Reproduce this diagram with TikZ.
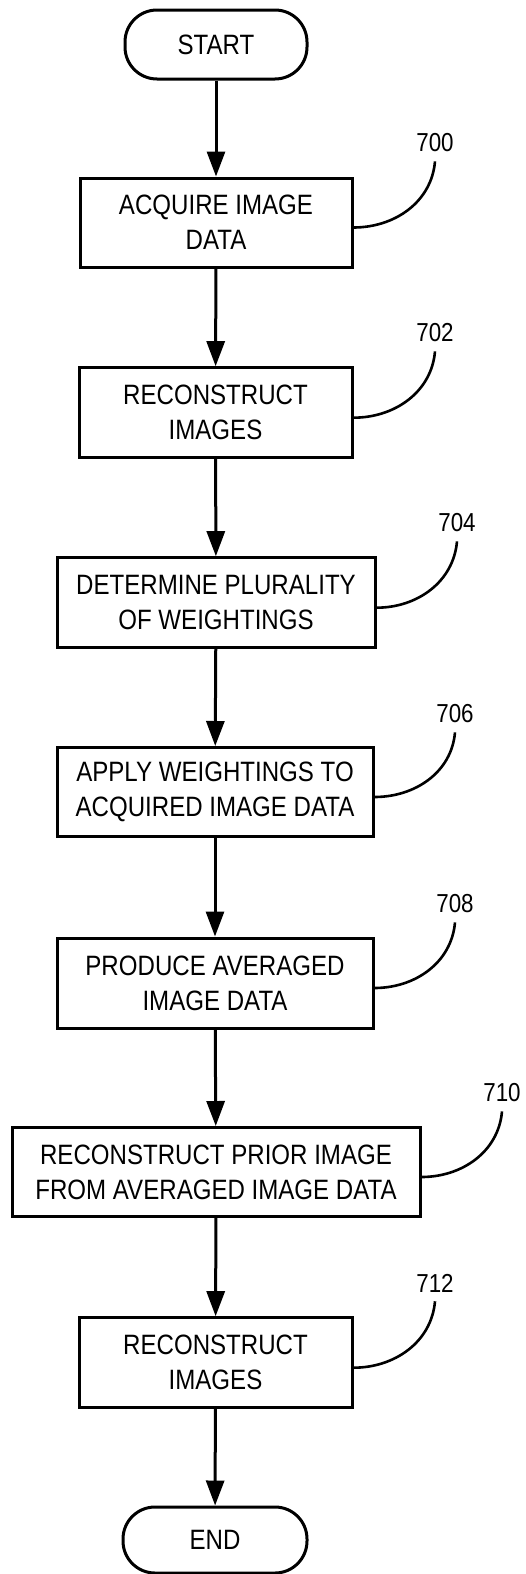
\documentclass[tikz,border=0pt]{standalone}
\usepackage{fontspec}
\setmainfont{Liberation Sans}[FakeStretch=0.86]
\usetikzlibrary{arrows.meta}

\tikzset{
  stepbox/.style={draw, line width=3pt, inner sep=0pt, align=center,
    font=\fontsize{28}{35}\selectfont},
  terminal/.style={stepbox, rounded corners=32pt},
  flow/.style={line width=3pt, -{Triangle[length=25pt,width=18pt]}},
  reflabel/.style={inner sep=0pt, font=\fontsize{26}{30}\selectfont},
  leader/.style={line width=2.6pt}
}

\begin{document}
\begin{tikzpicture}[x=1pt, y=-1pt]
  \useasboundingbox (0,0) rectangle (525,1574);

  % terminals
  \node[terminal, minimum width=182pt, minimum height=69pt] (start) at (216,44.5) {START};
  \node[terminal, minimum width=184pt, minimum height=66pt] (end) at (215,1540) {END};

  % process steps
  \node[stepbox, minimum width=272pt, minimum height=89pt] (b700) at (216,222.5) {ACQUIRE IMAGE\\DATA};
  \node[stepbox, minimum width=273pt, minimum height=90pt] (b702) at (215.5,412.7) {RECONSTRUCT\\IMAGES};
  \node[stepbox, minimum width=318pt, minimum height=90pt] (b704) at (216,602.7) {DETERMINE PLURALITY\\OF WEIGHTINGS};
  \node[stepbox, minimum width=316pt, minimum height=89pt] (b706) at (215,792) {APPLY WEIGHTINGS TO\\ACQUIRED IMAGE DATA};
  \node[stepbox, minimum width=316pt, minimum height=90pt] (b708) at (215,983) {PRODUCE AVERAGED\\IMAGE DATA};
  \node[stepbox, minimum width=408pt, minimum height=89pt] (b710) at (216,1172) {RECONSTRUCT PRIOR IMAGE\\FROM AVERAGED IMAGE DATA};
  \node[stepbox, minimum width=273pt, minimum height=90pt] (b712) at (215.5,1362.7) {RECONSTRUCT\\IMAGES};

  % reference numerals
  \node[reflabel] (l700) at (435,143) {700};
  \node[reflabel] (l702) at (435,333) {702};
  \node[reflabel] (l704) at (457,523) {704};
  \node[reflabel] (l706) at (455,714) {706};
  \node[reflabel] (l708) at (455,904) {708};
  \node[reflabel] (l710) at (502,1093) {710};
  \node[reflabel] (l712) at (435,1283) {712};

  % flow arrows
  \draw[flow] (start) -- (b700);
  \draw[flow] (b700) -- (b702);
  \draw[flow] (b702) -- (b704);
  \draw[flow] (b704) -- (b706);
  \draw[flow] (b706) -- (b708);
  \draw[flow] (b708) -- (b710);
  \draw[flow] (b710) -- (b712);
  \draw[flow] (b712) -- (end);

  % leader lines
  \foreach \n in {700,702,704,706,708,710,712}
    \draw[leader] ([yshift=-5pt]b\n.east) to[out=0, in=-95] ([yshift=-9pt]l\n.south);
\end{tikzpicture}
\end{document}
